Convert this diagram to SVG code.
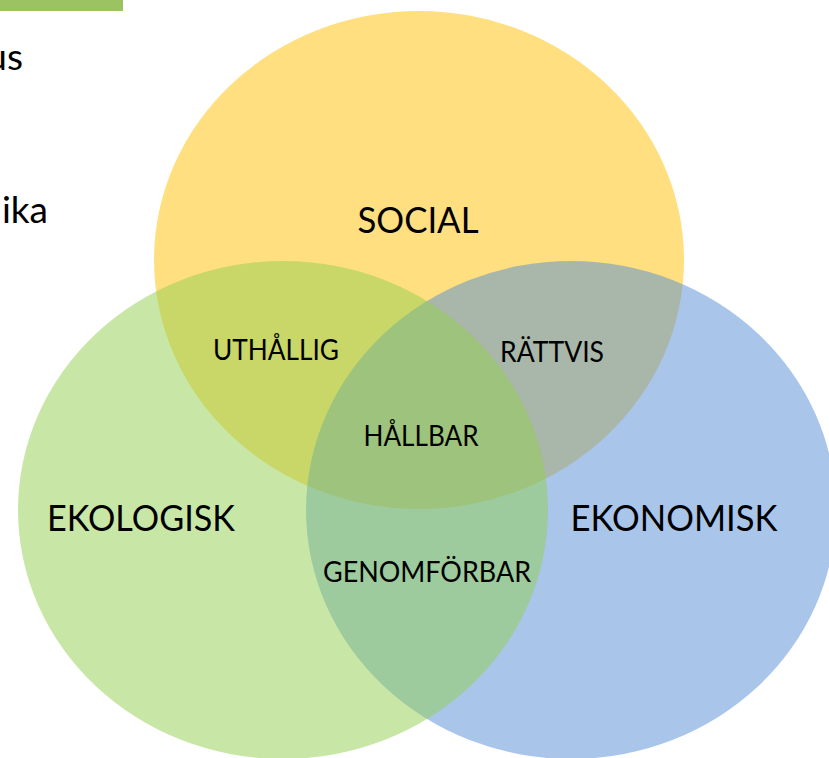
<svg xmlns="http://www.w3.org/2000/svg" width="829" height="758" viewBox="0 0 829 758">
  <style>
    .set { fill-opacity: 0.5; stroke: none; }
    .big { font-family: Lato, "Open Sans", "Liberation Sans", sans-serif; font-size: 36px; fill: #000; text-anchor: middle; }
    .small { font-family: Lato, "Open Sans", "Liberation Sans", sans-serif; font-size: 28px; fill: #000; text-anchor: middle; }
    .side { font-family: Lato, "Open Sans", "Liberation Sans", sans-serif; font-size: 37px; fill: #000; text-anchor: end; }
  </style>
  <rect x="0" y="0" width="829" height="758" fill="#ffffff"/>
  <rect x="0" y="0" width="123" height="11" fill="#9BC361"/>
  <text class="side" x="23" y="70">us</text>
  <text class="side" x="48" y="223">ika</text>

  <g id="social">
    <ellipse class="set" cx="419" cy="260" rx="265" ry="249" fill="#FFC000"/>
    <text class="big" x="418" y="233" textLength="121" lengthAdjust="spacingAndGlyphs">SOCIAL</text>
  </g>
  <g id="ekonomisk">
    <ellipse class="set" cx="571" cy="510" rx="265" ry="249" fill="#538DD5"/>
    <text class="big" x="674" y="531" textLength="207" lengthAdjust="spacingAndGlyphs">EKONOMISK</text>
  </g>
  <g id="ekologisk">
    <ellipse class="set" cx="283" cy="510" rx="265" ry="249" fill="#92D050"/>
    <text class="big" x="141" y="531" textLength="188" lengthAdjust="spacingAndGlyphs">EKOLOGISK</text>
  </g>

  <g id="uthallig">
    <text class="small" x="276" y="360" textLength="126" lengthAdjust="spacingAndGlyphs">UTHÅLLIG</text>
  </g>
  <g id="rattvis">
    <text class="small" x="552" y="362" textLength="104" lengthAdjust="spacingAndGlyphs">RÄTTVIS</text>
  </g>
  <g id="hallbar">
    <text class="small" x="421" y="446" textLength="115" lengthAdjust="spacingAndGlyphs">HÅLLBAR</text>
  </g>
  <g id="genomforbar">
    <text class="small" x="427" y="582" textLength="208" lengthAdjust="spacingAndGlyphs">GENOMFÖRBAR</text>
  </g>
  <g id="connectors"></g>
</svg>
